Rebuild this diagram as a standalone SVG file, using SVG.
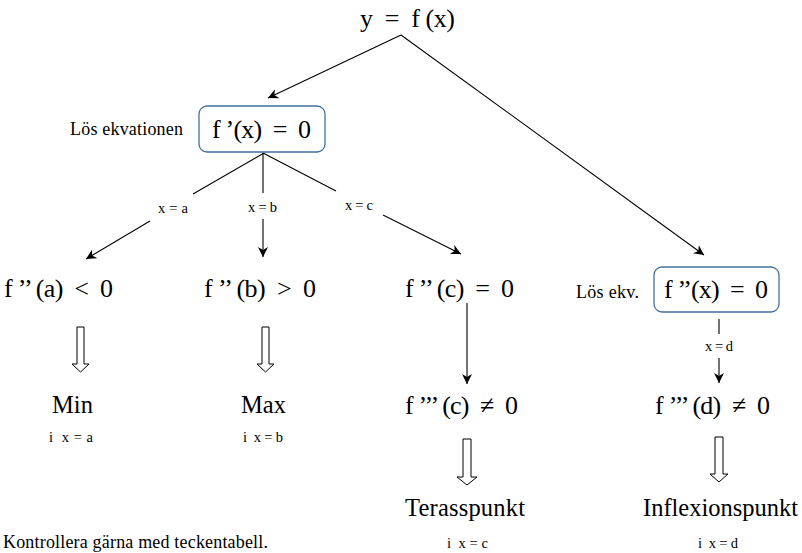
<svg xmlns="http://www.w3.org/2000/svg" width="802" height="553" viewBox="0 0 802 553">
<defs>
<marker id="ah" viewBox="0 0 10 10" refX="10" refY="5" markerWidth="10" markerHeight="10" markerUnits="userSpaceOnUse" orient="auto">
<path d="M0,0 L10,5 L0,10 L3,5 Z" fill="#000"/>
</marker>
<style>
text{font-family:'Liberation Serif','Tinos','Times New Roman','DejaVu Serif',serif;fill:#000}
.big{font-size:26px}
.mid{font-size:24.5px}
.lab{font-size:18px}
.sm{font-size:14.5px}
.box{fill:#fff;stroke:#41719c;stroke-width:1.3}
.ln{stroke:#000;stroke-width:1.1;fill:none}
.ar{marker-end:url(#ah)}
.hol{fill:#fff;stroke:#000;stroke-width:1}
</style>
</defs>
<rect width="802" height="553" fill="#fff"/>
<g id="connectors">
<line class="ln ar" x1="401" y1="35" x2="268" y2="98"/>
<line class="ln ar" x1="401" y1="35" x2="704" y2="255"/>
<line class="ln" x1="264" y1="153" x2="193" y2="194"/>
<line class="ln" x1="263" y1="153" x2="263" y2="193"/>
<line class="ln" x1="263" y1="153" x2="336" y2="191"/>
<line class="ln ar" x1="150" y1="221" x2="86" y2="259"/>
<line class="ln ar" x1="263" y1="219" x2="263" y2="257"/>
<line class="ln ar" x1="383" y1="215" x2="461" y2="254"/>
<line class="ln ar" x1="467" y1="303" x2="467" y2="384"/>
<line class="ln" x1="719" y1="319" x2="719" y2="334"/>
<line class="ln ar" x1="719" y1="358" x2="719" y2="383"/>
<path class="hol" d="M77,327 H84 V364 H89 L80.5,372 L72,364 H77 Z"/>
<path class="hol" d="M262,327 H269 V364 H274 L265.5,372 L257,364 H262 Z"/>
<path class="hol" d="M463,439 H471 V477 H477 L467,485 L457,477 H463 Z"/>
<path class="hol" d="M715,437 H723 V474 H728 L719,482 L710,474 H715 Z"/>
</g>
<g font-family="'Liberation Serif', 'Times New Roman', serif">
<g id="n-title"><text class="big" x="360" y="27" textLength="95" xml:space="preserve">y  =  f (x)</text></g>
<g id="n-fprim">
<rect class="box" x="199" y="106" width="126" height="46" rx="8"/>
<text class="big" x="212" y="138" textLength="99" xml:space="preserve">f ’(x)  =  0</text>
</g>
<g id="n-los1"><text class="lab" x="70" y="135" textLength="113">Lös ekvationen</text></g>
<g id="n-la"><text class="sm" x="158" y="213" textLength="30">x = a</text></g>
<g id="n-lb"><text class="sm" x="248" y="212" textLength="29">x = b</text></g>
<g id="n-lc"><text class="sm" x="345" y="210" textLength="28">x = c</text></g>
<g id="n-fa"><text class="big" x="4" y="297" textLength="109" xml:space="preserve">f ’’ (a)  &lt;  0</text></g>
<g id="n-fb"><text class="big" x="204" y="297" textLength="112" xml:space="preserve">f ’’ (b)  &gt;  0</text></g>
<g id="n-fc"><text class="big" x="405" y="297" textLength="109" xml:space="preserve">f ’’ (c)  =  0</text></g>
<g id="n-los2"><text class="lab" x="576" y="298" textLength="63">Lös ekv.</text></g>
<g id="n-fbis">
<rect class="box" x="654" y="267" width="125" height="45" rx="8"/>
<text class="big" x="664" y="298" textLength="104" xml:space="preserve">f ’’(x)  =  0</text>
</g>
<g id="n-ld"><text class="sm" x="705" y="351" textLength="28">x = d</text></g>
<g id="n-min"><text class="mid" x="52" y="413" textLength="41">Min</text><text class="sm" x="49" y="442" textLength="44" xml:space="preserve">i  x = a</text></g>
<g id="n-max"><text class="mid" x="241" y="413" textLength="45">Max</text><text class="sm" x="243" y="442" textLength="40" xml:space="preserve">i  x = b</text></g>
<g id="n-f3c"><text class="big" x="405" y="414" textLength="113" xml:space="preserve">f ’’’ (c)  ≠  0</text></g>
<g id="n-f3d"><text class="big" x="655" y="414" textLength="115" xml:space="preserve">f ’’’ (d)  ≠  0</text></g>
<g id="n-ter"><text class="mid" x="405" y="516" textLength="120">Terasspunkt</text><text class="sm" x="447" y="548" textLength="41" xml:space="preserve">i  x = c</text></g>
<g id="n-inf"><text class="mid" x="643" y="516" textLength="155">Inflexionspunkt</text><text class="sm" x="698" y="548" textLength="40" xml:space="preserve">i  x = d</text></g>
<g id="n-note"><text class="lab" x="3" y="548" textLength="265">Kontrollera gärna med teckentabell.</text></g>
</g>
</svg>
